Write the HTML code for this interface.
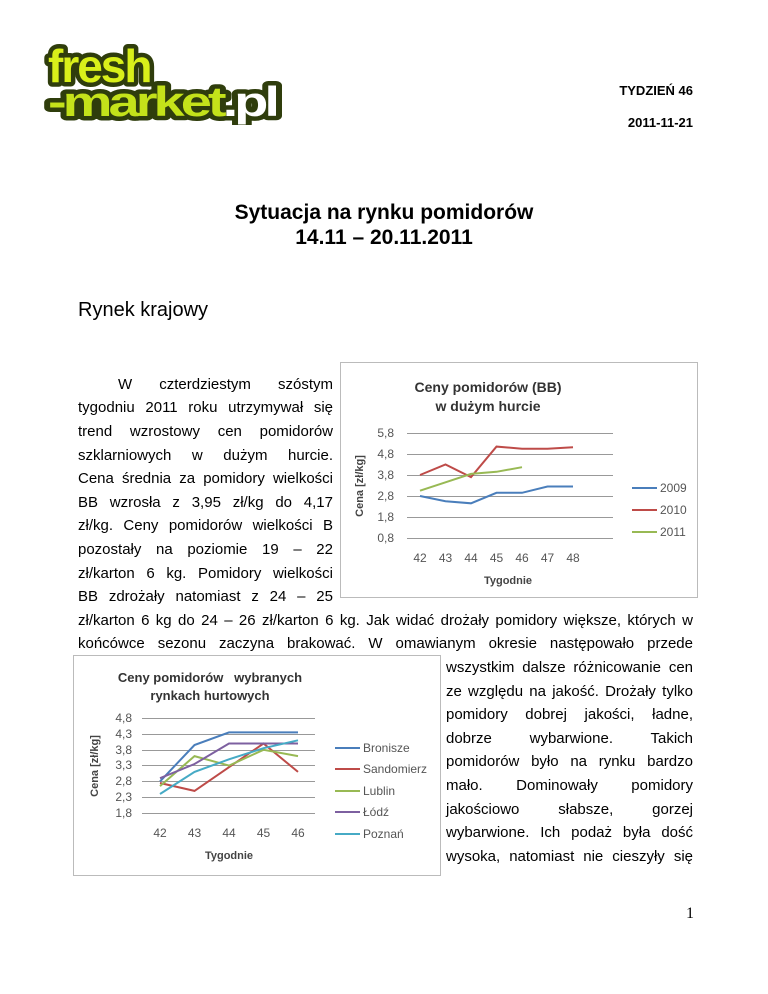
<!DOCTYPE html>
<html><head><meta charset="utf-8">
<style>
body{margin:0;background:#fff;}
#p{position:relative;width:768px;height:994px;overflow:hidden;font-family:"Liberation Sans",Arial,sans-serif;color:#000;}
.t{position:absolute;font-size:15px;line-height:18px;white-space:nowrap;}
.j{position:absolute;font-size:15px;line-height:18px;text-align:justify;text-align-last:justify;white-space:nowrap;}
</style></head><body><div id="p">
<svg style="position:absolute;left:40px;top:40px" width="250" height="85">
 <g font-family="Liberation Sans,Arial,sans-serif" font-weight="bold" stroke-linejoin="round">
  <text x="8" y="42" font-size="46" letter-spacing="-2" fill="#3a4a10" stroke="#2f3d0c" stroke-width="9">fresh</text>
  <text x="8" y="42" font-size="46" letter-spacing="-2" fill="#d9f01a">fresh</text>
  <text x="8" y="76" font-size="42" letter-spacing="-3" textLength="228" lengthAdjust="spacingAndGlyphs" fill="#3a4a10" stroke="#2f3d0c" stroke-width="9">-market.pl</text>
  <text x="8" y="76" font-size="42" letter-spacing="-3" textLength="228" lengthAdjust="spacingAndGlyphs" fill="#c4e21a">-market<tspan fill="#ffffff">.pl</tspan></text>
 </g>
</svg>
<div class="t" style="right:75px;top:82px;font-weight:bold;font-size:13px">TYDZIEŃ 46</div>
<div class="t" style="right:75px;top:114px;font-weight:bold;font-size:13px">2011-11-21</div>
<div class="t" style="left:0;width:768px;text-align:center;top:200px;font-size:21px;line-height:25px;font-weight:bold">Sytuacja na rynku pomidorów<br>14.11 – 20.11.2011</div>
<div class="t" style="left:78px;top:298px;font-size:20px;line-height:24px">Rynek krajowy</div>

<div class="j" style="left:118px;width:215px;top:376px">W czterdziestym szóstym</div>
<div class="j" style="left:78px;width:255px;top:399px">tygodniu 2011 roku utrzymywał się</div>
<div class="j" style="left:78px;width:255px;top:423px">trend wzrostowy cen pomidorów</div>
<div class="j" style="left:78px;width:255px;top:447px">szklarniowych w dużym hurcie.</div>
<div class="j" style="left:78px;width:255px;top:470px">Cena średnia za pomidory wielkości</div>
<div class="j" style="left:78px;width:255px;top:494px">BB wzrosła z 3,95 zł/kg do 4,17</div>
<div class="j" style="left:78px;width:255px;top:517px">zł/kg. Ceny pomidorów wielkości B</div>
<div class="j" style="left:78px;width:255px;top:541px">pozostały na poziomie 19 – 22</div>
<div class="j" style="left:78px;width:255px;top:565px">zł/karton 6 kg. Pomidory wielkości</div>
<div class="j" style="left:78px;width:255px;top:588px">BB zdrożały natomiast z 24 – 25</div>
<div class="j" style="left:78px;width:615px;top:612px">zł/karton 6 kg do 24 – 26 zł/karton 6 kg. Jak widać drożały pomidory większe, których w</div>
<div class="j" style="left:78px;width:615px;top:635px">końcówce sezonu zaczyna brakować. W omawianym okresie następowało przede</div>
<div class="j" style="left:446px;width:247px;top:659px">wszystkim dalsze różnicowanie cen</div>
<div class="j" style="left:446px;width:247px;top:683px">ze względu na jakość. Drożały tylko</div>
<div class="j" style="left:446px;width:247px;top:706px">pomidory dobrej jakości, ładne,</div>
<div class="j" style="left:446px;width:247px;top:730px">dobrze wybarwione. Takich</div>
<div class="j" style="left:446px;width:247px;top:753px">pomidorów było na rynku bardzo</div>
<div class="j" style="left:446px;width:247px;top:777px">mało. Dominowały pomidory</div>
<div class="j" style="left:446px;width:247px;top:801px">jakościowo słabsze, gorzej</div>
<div class="j" style="left:446px;width:247px;top:824px">wybarwione. Ich podaż była dość</div>
<div class="j" style="left:446px;width:247px;top:848px">wysoka, natomiast nie cieszyły się</div>
<div class="t" style="left:686px;top:905px;font-family:'Liberation Serif',serif;font-size:16px">1</div>

<svg style="position:absolute;left:0;top:0" width="768" height="994" font-family="Liberation Sans,Arial,sans-serif">
 <rect x="340.5" y="362.5" width="357" height="235" fill="none" stroke="#bbb"/>
 <text x="488" y="392" font-size="14" font-weight="bold" fill="#333" text-anchor="middle">Ceny pomidorów (BB)</text>
 <text x="488" y="411" font-size="14" font-weight="bold" fill="#333" text-anchor="middle">w dużym hurcie</text>
 <g stroke="#999" stroke-width="1">
  <line x1="407" y1="433.5" x2="613" y2="433.5"/><line x1="407" y1="454.5" x2="613" y2="454.5"/>
  <line x1="407" y1="475.5" x2="613" y2="475.5"/><line x1="407" y1="496.5" x2="613" y2="496.5"/>
  <line x1="407" y1="517.5" x2="613" y2="517.5"/><line x1="407" y1="538.5" x2="613" y2="538.5"/>
 </g>
 <g font-size="12" fill="#555" text-anchor="end">
  <text x="394" y="437">5,8</text><text x="394" y="458">4,8</text><text x="394" y="479">3,8</text>
  <text x="394" y="500">2,8</text><text x="394" y="521">1,8</text><text x="394" y="542">0,8</text>
 </g>
 <g font-size="12" fill="#555" text-anchor="middle">
  <text x="420" y="562">42</text><text x="445.5" y="562">43</text><text x="471" y="562">44</text><text x="496.5" y="562">45</text><text x="522" y="562">46</text><text x="547.5" y="562">47</text><text x="573" y="562">48</text>
 </g>
 <text x="508" y="584" font-size="11" font-weight="bold" fill="#444" text-anchor="middle">Tygodnie</text>
 <text transform="translate(363,486) rotate(-90)" font-size="11" font-weight="bold" fill="#444" text-anchor="middle">Cena [zł/kg]</text>
 <g fill="none" stroke-width="2">
  <polyline stroke="#4a7ebb" points="420,496 445.5,501.2 471,503.3 496.5,492.8 522,492.8 547.5,486.5 573,486.5"/>
  <polyline stroke="#be4b48" points="420,475 445.5,464.5 471,477.1 496.5,446.6 522,448.7 547.5,448.7 573,447.2"/>
  <polyline stroke="#98b954" points="420,490.7 445.5,482.3 471,473.9 496.5,471.8 522,467.2"/>
  <line x1="632" y1="488" x2="657" y2="488" stroke="#4a7ebb"/>
  <line x1="632" y1="510" x2="657" y2="510" stroke="#be4b48"/>
  <line x1="632" y1="532" x2="657" y2="532" stroke="#98b954"/>
 </g>
 <g font-size="12" fill="#555">
  <text x="660" y="492">2009</text><text x="660" y="514">2010</text><text x="660" y="536">2011</text>
 </g>

 <rect x="73.5" y="655.5" width="367" height="220" fill="none" stroke="#bbb"/>
 <text x="210" y="682" font-size="13" font-weight="bold" fill="#333" text-anchor="middle" xml:space="preserve">Ceny pomidorów   wybranych</text>
 <text x="210" y="700" font-size="13" font-weight="bold" fill="#333" text-anchor="middle">rynkach hurtowych</text>
 <g stroke="#999" stroke-width="1">
  <line x1="142" y1="718.5" x2="315" y2="718.5"/><line x1="142" y1="734.5" x2="315" y2="734.5"/>
  <line x1="142" y1="750.5" x2="315" y2="750.5"/><line x1="142" y1="765.5" x2="315" y2="765.5"/>
  <line x1="142" y1="781.5" x2="315" y2="781.5"/><line x1="142" y1="797.5" x2="315" y2="797.5"/>
  <line x1="142" y1="813.5" x2="315" y2="813.5"/>
 </g>
 <g font-size="12" fill="#555" text-anchor="end">
  <text x="132" y="722">4,8</text><text x="132" y="738">4,3</text><text x="132" y="754">3,8</text>
  <text x="132" y="769">3,3</text><text x="132" y="785">2,8</text><text x="132" y="801">2,3</text><text x="132" y="817">1,8</text>
 </g>
 <g font-size="12" fill="#555" text-anchor="middle">
  <text x="160" y="837">42</text><text x="194.5" y="837">43</text><text x="229" y="837">44</text><text x="263.5" y="837">45</text><text x="298" y="837">46</text>
 </g>
 <text x="229" y="859" font-size="11" font-weight="bold" fill="#444" text-anchor="middle">Tygodnie</text>
 <text transform="translate(98,766) rotate(-90)" font-size="11" font-weight="bold" fill="#444" text-anchor="middle">Cena [zł/kg]</text>
 <g fill="none" stroke-width="2">
  <polyline stroke="#4a7ebb" points="160,781.4 194.5,745 229,732.4 263.5,732.4 298,732.4"/>
  <polyline stroke="#be4b48" points="160,783 194.5,790.9 229,767.2 263.5,743.5 298,771.9"/>
  <polyline stroke="#98b954" points="160,786.1 194.5,756.1 229,765.6 263.5,749.8 298,756.1"/>
  <polyline stroke="#7d60a0" points="160,778.2 194.5,764 229,743.5 263.5,743.5 298,743.5"/>
  <polyline stroke="#46aac5" points="160,794 194.5,771.9 229,759.3 263.5,748.2 298,740.3"/>
  <line x1="335" y1="748" x2="360" y2="748" stroke="#4a7ebb"/>
  <line x1="335" y1="769" x2="360" y2="769" stroke="#be4b48"/>
  <line x1="335" y1="791" x2="360" y2="791" stroke="#98b954"/>
  <line x1="335" y1="812" x2="360" y2="812" stroke="#7d60a0"/>
  <line x1="335" y1="834" x2="360" y2="834" stroke="#46aac5"/>
 </g>
 <g font-size="12" fill="#555">
  <text x="363" y="752">Bronisze</text><text x="363" y="773">Sandomierz</text><text x="363" y="795">Lublin</text><text x="363" y="816">Łódź</text><text x="363" y="838">Poznań</text>
 </g>
</svg>
</div></body></html>
